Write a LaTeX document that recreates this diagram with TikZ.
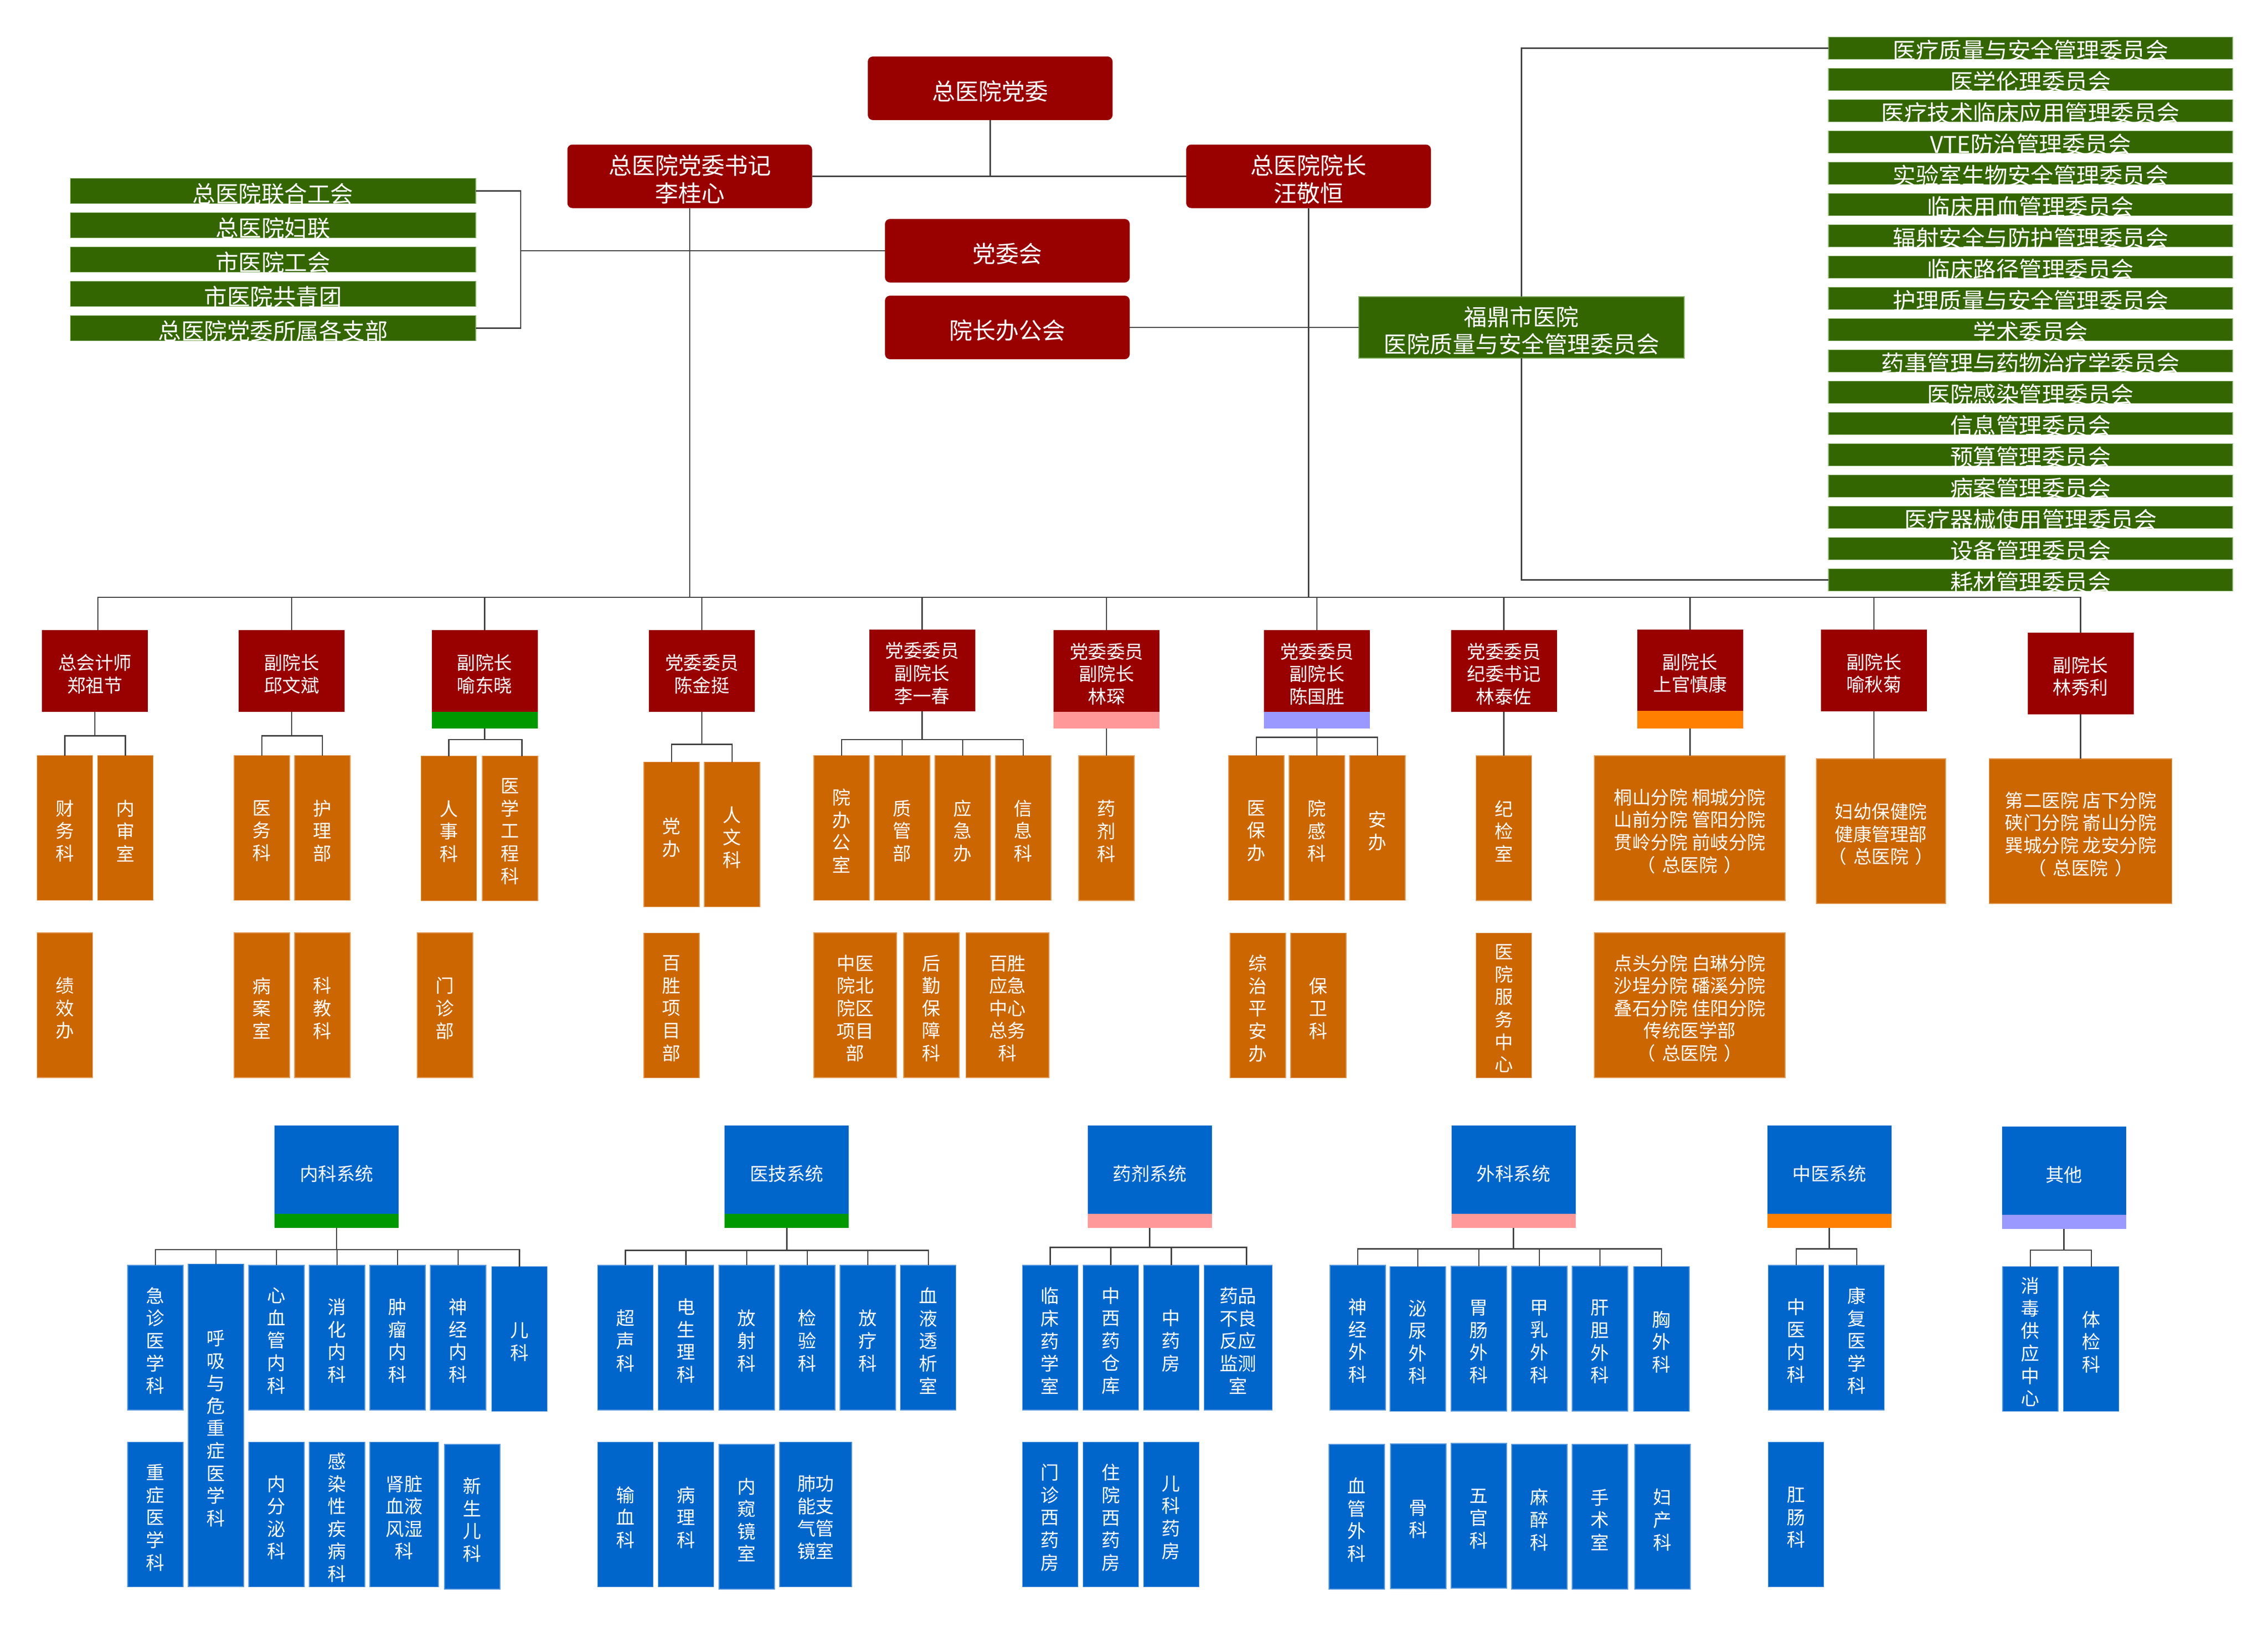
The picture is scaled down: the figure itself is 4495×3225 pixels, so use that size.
\documentclass[tikz,border=0pt]{standalone}
\usepackage{fontspec}
\setmainfont{Noto Sans CJK SC}
\definecolor{dred}{HTML}{990000}
\definecolor{dgreen}{HTML}{336600}
\definecolor{lgreen}{HTML}{8CB36A}
\definecolor{orng}{HTML}{CC6600}
\definecolor{lorng}{HTML}{E39A55}
\definecolor{bblue}{HTML}{0066CC}
\definecolor{lblue}{HTML}{5B9BE0}
\definecolor{bgreen}{HTML}{009900}
\definecolor{bpink}{HTML}{FF9999}
\definecolor{blav}{HTML}{9999FF}
\definecolor{borng}{HTML}{FF8000}
\definecolor{lcol}{HTML}{404040}
% box + text node helpers
\newcommand{\tbx}[4][]{\node[topbox,#1] (#2) at (#3) {}; \node[ttxt] (#2t) at ([yshift=-6pt]#2.center) {#4};}
\newcommand{\ldx}[4][]{\node[lead,#1] (#2) at (#3) {}; \node[stxt] (#2t) at ([yshift=-6pt]#2.center) {#4};}
\newcommand{\odx}[4][]{\node[dept,#1] (#2) at (#3) {}; \node[stxt] (#2t) at ([yshift=-6pt]#2.center) {#4};}
\newcommand{\bdx}[4][]{\node[bdept,#1] (#2) at (#3) {}; \node[stxt] (#2t) at ([yshift=-6pt]#2.center) {#4};}
\newcommand{\hdx}[4][]{\node[hdr,#1] (#2) at (#3) {}; \node[stxt] (#2t) at ([yshift=-8pt]#2.center) {#4};}
\newcommand{\zyy}{（\hspace{13pt}总医院\hspace{13pt}）}
\begin{document}
\begin{tikzpicture}[x=1pt,y=-1pt,
  bx/.style={inner sep=0pt,outer sep=0pt},
  ttxt/.style={bx,text=white,align=center,font=\fontsize{46}{55}\selectfont},
  stxt/.style={bx,text=white,align=center,font=\fontsize{36.5}{44.6}\selectfont},
  topbox/.style={bx,fill=dred,rounded corners=10pt,minimum width=485pt,minimum height=126pt},
  lead/.style={bx,fill=dred,minimum width=210pt,minimum height=162pt},
  dept/.style={bx,fill=orng,draw=lorng,line width=1.2pt,minimum width=110pt,minimum height=287pt},
  bdept/.style={bx,fill=bblue,draw=lblue,line width=1.2pt,minimum width=110pt,minimum height=287pt},
  hdr/.style={bx,fill=bblue,minimum width=246pt,minimum height=175pt},
  band/.style={bx,minimum width=210pt,minimum height=33pt},
  hband/.style={bx,minimum width=246pt,minimum height=28pt},
  gbox/.style={bx,fill=dgreen,draw=lgreen,line width=1.2pt},
  gtxt/.style={bx,text=white,anchor=base,font=\fontsize{45.5}{55}\selectfont},
  conn/.style={draw=lcol,line width=2.6pt}]
\fill[white] (0,0) rectangle (4495,3225);
\useasboundingbox (0,0) rectangle (4495,3225);

% ---------- top ----------
\tbx{dw}{1962.5,175}{总医院党委}
\tbx{sj}{1367,349.5}{总医院党委书记\\李桂心}
\tbx{yz}{2593.5,349.5}{总医院院长\\汪敬恒}
\tbx{dwh}{1996.5,497}{党委会}
\tbx{yzb}{1996.5,649}{院长办公会}
\node[gbox,minimum width=645pt,minimum height=122pt] (fd) at (3015.5,649) {};
\node[bx,text=white,align=center,font=\fontsize{45.5}{54.7}\selectfont] (fdt) at (3015.5,655) {福鼎市医院\\医院质量与安全管理委员会};

% left green list
\foreach \t [count=\i from 0] in {总医院联合工会,总医院妇联,市医院工会,市医院共青团,总医院党委所属各支部}{
  \node[gbox,minimum width=803.5pt,minimum height=50pt] (g\i) at (541.2,{378.3+68*\i}) {};
  \node[gtxt] (gt\i) at (541.2,{401.3+68*\i}) {\t};
}
% committees
\foreach \t [count=\i from 0] in {医疗质量与安全管理委员会,医学伦理委员会,医疗技术临床应用管理委员会,VTE防治管理委员会,实验室生物安全管理委员会,临床用血管理委员会,辐射安全与防护管理委员会,临床路径管理委员会,护理质量与安全管理委员会,学术委员会,药事管理与药物治疗学委员会,医院感染管理委员会,信息管理委员会,预算管理委员会,病案管理委员会,医疗器械使用管理委员会,设备管理委员会,耗材管理委员会}{
  \node[gbox,minimum width=801pt,minimum height=44pt] (c\i) at (4024.5,{95.4+62*\i}) {};
  \node[gtxt] (ct\i) at (4024.5,{117.4+62*\i}) {\t};
}

% ---------- leaders ----------
\ldx{l1}{188,1330}{总会计师\\郑祖节}
\ldx{l2}{578,1330}{副院长\\邱文斌}
\ldx{l3}{960.5,1330}{副院长\\喻东晓}
\node[band,fill=bgreen] (l3s) at (960.5,1427.5) {};
\ldx{l4}{1391,1330}{党委委员\\陈金挺}
\ldx{l5}{1827.5,1328.5}{党委委员\\副院长\\李一春}
\ldx{l6}{2193,1330}{党委委员\\副院长\\林琛}
\node[band,fill=bpink] (l6s) at (2193,1427.5) {};
\ldx{l7}{2610,1330}{党委委员\\副院长\\陈国胜}
\node[band,fill=blav] (l7s) at (2610,1427.5) {};
\ldx{l8}{2980.5,1330}{党委委员\\纪委书记\\林泰佐}
\ldx{l9}{3349.5,1328.5}{副院长\\上官慎康}
\node[band,fill=borng,minimum height=35pt] (l9s) at (3349.5,1426.5) {};
\ldx{l10}{3714,1328.5}{副院长\\喻秋菊}
\ldx{l11}{4123.5,1334.5}{副院长\\林秀利}

% ---------- orange departments ----------
\odx{o1a}{128.75,1641}{财\\务\\科}
\odx{o1b}{248.7,1641}{内\\审\\室}
\odx{o1c}{128.75,1992.5}{绩\\效\\办}
\odx{o2a}{519,1641}{医\\务\\科}
\odx{o2b}{639,1641}{护\\理\\部}
\odx{o2c}{519,1992.5}{病\\案\\室}
\odx{o2d}{639,1992.5}{科\\教\\科}
\odx{o3a}{889.5,1642}{人\\事\\科}
\odx{o3b}{1011,1642}{医\\学\\工\\程\\科}
\odx{o3c}{882,1992.5}{门\\诊\\部}
\odx{o4a}{1331,1654}{党\\办}
\odx{o4b}{1451,1654}{人\\文\\科}
\odx{o4c}{1331,1993}{百\\胜\\项\\目\\部}
\odx{o5a}{1668,1641}{院\\办\\公\\室}
\odx{o5b}{1788,1641}{质\\管\\部}
\odx{o5c}{1908,1641}{应\\急\\办}
\odx{o5d}{2028,1641}{信\\息\\科}
\odx[minimum width=164pt]{o5e}{1695,1992.5}{中医\\院北\\院区\\项目\\部}
\odx{o5f}{1846,1992.5}{后\\勤\\保\\障\\科}
\odx[minimum width=164.5pt]{o5g}{1996.8,1992.5}{百胜\\应急\\中心\\总务\\科}
\odx{o6a}{2193,1641.5}{药\\剂\\科}
\odx{o7a}{2490,1641}{医\\保\\办}
\odx{o7b}{2610,1641}{院\\感\\科}
\odx{o7c}{2730,1641}{安\\办}
\odx{o7d}{2493,1993}{综\\治\\平\\安\\办}
\odx{o7e}{2613,1993}{保\\卫\\科}
\odx{o8a}{2980.5,1641.5}{纪\\检\\室}
\odx{o8b}{2980.5,1993}{医\\院\\服\\务\\中\\心}
\odx[minimum width=378pt]{o9a}{3349,1641.5}{桐山分院 桐城分院\\山前分院 管阳分院\\贯岭分院 前岐分院\\\zyy}
\odx[minimum width=378pt]{o9b}{3349,1992.5}{点头分院 白琳分院\\沙埕分院 磻溪分院\\叠石分院 佳阳分院\\传统医学部\\\zyy}
\odx[minimum width=256pt]{o10a}{3728,1647.5}{妇幼保健院\\健康管理部\\\zyy}
\odx[minimum width=362pt]{o11a}{4123.6,1647.5}{第二医院 店下分院\\硖门分院 嵛山分院\\巽城分院 龙安分院\\\zyy}

% ---------- bottom headers ----------
\hdx{h1}{667,2318.5}{内科系统}
\node[hband,fill=bgreen] (h1s) at (667,2420) {};
\hdx{h2}{1559.3,2318.5}{医技系统}
\node[hband,fill=bgreen] (h2s) at (1559.3,2420) {};
\hdx{h3}{2278.6,2318.5}{药剂系统}
\node[hband,fill=bpink] (h3s) at (2278.6,2420) {};
\hdx{h4}{2999.5,2318.5}{外科系统}
\node[hband,fill=bpink] (h4s) at (2999.5,2420) {};
\hdx{h5}{3625.5,2318.5}{中医系统}
\node[hband,fill=borng] (h5s) at (3625.5,2420) {};
\hdx{h6}{4090.7,2320.8}{其他}
\node[hband,fill=blav] (h6s) at (4090.7,2422) {};

% ---------- blue departments ----------
\bdx{b1a}{308,2651.5}{急\\诊\\医\\学\\科}
\bdx[minimum height=639.4pt]{b1b}{428,2825.3}{呼\\吸\\与\\危\\重\\症\\医\\学\\科}
\bdx{b1c}{548,2651.5}{心\\血\\管\\内\\科}
\bdx{b1d}{668,2651.5}{消\\化\\内\\科}
\bdx{b1e}{788,2651.5}{肿\\瘤\\内\\科}
\bdx{b1f}{908,2651.5}{神\\经\\内\\科}
\bdx{b1g}{1029.3,2654}{儿\\科}
\bdx{b1h}{308,3002}{重\\症\\医\\学\\科}
\bdx{b1i}{548,3002}{内\\分\\泌\\科}
\bdx{b1j}{668,3002}{感\\染\\性\\疾\\病\\科}
\bdx[minimum width=136pt]{b1k}{801,3002}{肾脏\\血液\\风湿\\科}
\bdx{b1l}{936,3006.5}{新\\生\\儿\\科}

\bdx{b2a}{1239.7,2651.5}{超\\声\\科}
\bdx{b2b}{1359.4,2651.5}{电\\生\\理\\科}
\bdx{b2c}{1480,2651.5}{放\\射\\科}
\bdx{b2d}{1600,2651.5}{检\\验\\科}
\bdx{b2e}{1720,2651.5}{放\\疗\\科}
\bdx{b2f}{1839.8,2651.5}{血\\液\\透\\析\\室}
\bdx{b2g}{1239.7,3002}{输\\血\\科}
\bdx{b2h}{1359.4,3002}{病\\理\\科}
\bdx{b2i}{1480,3006.5}{内\\窥\\镜\\室}
\bdx[minimum width=143pt]{b2j}{1616.5,3002}{肺功\\能支\\气管\\镜室}

\bdx{b3a}{2081.2,2651.5}{临\\床\\药\\学\\室}
\bdx{b3b}{2201.3,2651.5}{中\\西\\药\\仓\\库}
\bdx{b3c}{2321.2,2651.5}{中\\药\\房}
\bdx[minimum width=135pt]{b3d}{2453.7,2651.5}{药品\\不良\\反应\\监测\\室}
\bdx{b3e}{2081.2,3002}{门\\诊\\西\\药\\房}
\bdx{b3f}{2201.3,3002}{住\\院\\西\\药\\房}
\bdx{b3g}{2321.2,3002}{儿\\科\\药\\房}

\bdx{b4a}{2691,2651.5}{神\\经\\外\\科}
\bdx{b4b}{2810,2654}{泌\\尿\\外\\科}
\bdx{b4c}{2931,2653.5}{胃\\肠\\外\\科}
\bdx{b4d}{3051,2653.5}{甲\\乳\\外\\科}
\bdx{b4e}{3171,2653.5}{肝\\胆\\外\\科}
\bdx{b4f}{3293,2654}{胸\\外\\科}
\bdx{b4g}{2689,3006.5}{血\\管\\外\\科}
\bdx{b4h}{2811,3005.5}{骨\\科}
\bdx{b4i}{2931,3004.5}{五\\官\\科}
\bdx{b4j}{3051,3006.5}{麻\\醉\\科}
\bdx{b4k}{3171,3006.5}{手\\术\\室}
\bdx{b4l}{3295,3006.5}{妇\\产\\科}

\bdx{b5a}{3559.8,2651.5}{中\\医\\内\\科}
\bdx{b5b}{3679.8,2651.5}{康\\复\\医\\学\\科}
\bdx{b5c}{3559.8,3002}{肛\\肠\\科}

\bdx{b6a}{4024,2654}{消\\毒\\供\\应\\中\\心}
\bdx{b6b}{4144.8,2654}{体\\检\\科}

% ---------- connector levels ----------
\coordinate (gb) at (1032,497);
\coordinate (bus) at (0,1184);
\coordinate (y1) at (0,1458.5);
\coordinate (y3) at (0,1466);
\coordinate (y4) at (0,1475.7);
\coordinate (y5) at (0,1466);
\coordinate (y7) at (0,1461.7);
\coordinate (z1) at (0,2477);
\coordinate (z2) at (0,2478.75);
\coordinate (z3) at (0,2472.5);
\coordinate (z4) at (0,2475.6);
\coordinate (z6) at (0,2478);
\coordinate (l1x) at ([xshift=6pt]l1.north);
\coordinate (o3bx) at ([xshift=23.7pt]o3b.north);
\coordinate (b3dx) at ([xshift=17pt]b3d.north);

% ---------- connectors ----------
\draw[conn] (sj.east) -- (yz.west);
\draw[conn] (dw.south) -- (dw.south |- sj.east);
\draw[conn] (g0.east) -| (gb) |- (g4.east);
\draw[conn] (gb) -- (dwh.west);
\draw[conn] (yzb.east) -- (fd.west);
\draw[conn] (c0.west) -| (fd.north);
\draw[conn] (fd.south) |- (c17.west);
\draw[conn] (sj.south) -- (sj.south |- bus);
\draw[conn] (yz.south) -- (yz.south |- bus);

\draw[conn] (l1x) |- (l11.north |- bus) -- (l11.north);
\foreach \n in {l2,l3,l4,l5,l6,l7,l8,l9,l10}{\draw[conn] (\n.north) -- (\n.north |- bus);}

\draw[conn] (l1.south) -- (l1.south |- y1);
\draw[conn] (o1a.north) |- (o1b.north |- y1) -- (o1b.north);
\draw[conn] (l2.south) -- (l2.south |- y1);
\draw[conn] (o2a.north) |- (o2b.north |- y1) -- (o2b.north);
\draw[conn] (l3s.south) -- (l3s.south |- y3);
\draw[conn] (o3a.north) |- (o3bx |- y3) -- (o3bx);
\draw[conn] (l4.south) -- (l4.south |- y4);
\draw[conn] (o4a.north) |- (o4b.north |- y4) -- (o4b.north);
\draw[conn] (l5.south) -- (l5.south |- y5);
\draw[conn] (o5a.north) |- (o5d.north |- y5) -- (o5d.north);
\draw[conn] (o5b.north) -- (o5b.north |- y5);
\draw[conn] (o5c.north) -- (o5c.north |- y5);
\draw[conn] (l6s.south) -- (o6a.north);
\draw[conn] (l7s.south) -- (l7s.south |- y7);
\draw[conn] (o7a.north) |- (o7c.north |- y7) -- (o7c.north);
\draw[conn] (o7b.north) -- (o7b.north |- y7);
\draw[conn] (l8.south) -- (o8a.north);
\draw[conn] (l9s.south) -- (l9s.south |- o9a.north);
\draw[conn] (l10.south) -- (l10.south |- o10a.north);
\draw[conn] (l11.south) -- (l11.south |- o11a.north);

\draw[conn] (h1s.south) -- (h1s.south |- z1);
\draw[conn] (b1a.north) |- (b1g.north |- z1) -- (b1g.north);
\foreach \n in {b1b,b1c,b1d,b1e,b1f}{\draw[conn] (\n.north) -- (\n.north |- z1);}
\draw[conn] (h2s.south) -- (h2s.south |- z2);
\draw[conn] (b2a.north) |- (b2f.north |- z2) -- (b2f.north);
\foreach \n in {b2b,b2c,b2d,b2e}{\draw[conn] (\n.north) -- (\n.north |- z2);}
\draw[conn] (h3s.south) -- (h3s.south |- z3);
\draw[conn] (b3a.north) |- (b3dx |- z3) -- (b3dx);
\foreach \n in {b3b,b3c}{\draw[conn] (\n.north) -- (\n.north |- z3);}
\draw[conn] (h4s.south) -- (h4s.south |- z4);
\draw[conn] (b4a.north) |- (b4f.north |- z4) -- (b4f.north);
\foreach \n in {b4b,b4c,b4d,b4e}{\draw[conn] (\n.north) -- (\n.north |- z4);}
\draw[conn] (h5s.south) -- (h5s.south |- z4);
\draw[conn] (b5a.north) |- (b5b.north |- z4) -- (b5b.north);
\draw[conn] (h6s.south) -- (h6s.south |- z6);
\draw[conn] (b6a.north) |- (b6b.north |- z6) -- (b6b.north);
\end{tikzpicture}
\end{document}
